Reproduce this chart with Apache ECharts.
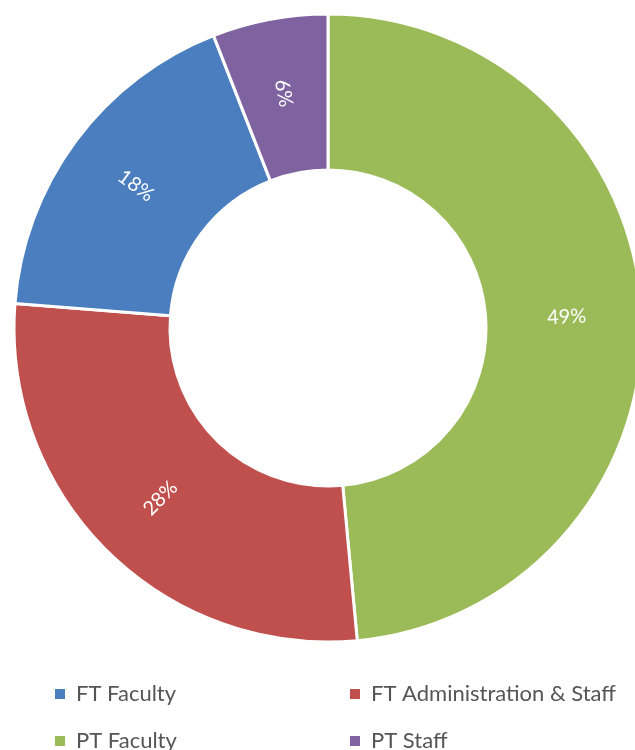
<!DOCTYPE html>
<html>
<head>
<meta charset="utf-8">
<script src="https://cdn.jsdelivr.net/npm/echarts@6/dist/echarts.min.js"></script>
<style>
  html, body { margin: 0; padding: 0; background: #fff; }
  #chart { width: 635px; height: 750px; }
</style>
</head>
<body>
<div id="chart"></div>
<script>
// slices, clockwise from 12 o'clock
var categories = ['PT Faculty', 'FT Administration & Staff', 'FT Faculty', 'PT Staff']
var values = [49, 28, 18, 6]
var colors = ['#9bbb59', '#c0504d', '#4a7ebf', '#7f63a1']
// legend order as shown under the chart
var legendOrder = ['FT Faculty', 'FT Administration & Staff', 'PT Faculty', 'PT Staff']

var chart = echarts.init(document.getElementById('chart'))

// one legend block per entry so the 2x2 grid sits where it should
var legendPos = [
  {left: 48, top: 678},
  {left: 343, top: 678},
  {left: 48, top: 725},
  {left: 343, top: 725}
]
var legends = legendOrder.map(function (name, i) {
  return {
    data: [name],
    left: legendPos[i].left,
    top: legendPos[i].top,
    icon: 'rect',
    itemWidth: 12,
    itemHeight: 12,
    itemGap: 0,
    selectedMode: false,
    textStyle: {
      color: '#555555',
      fontSize: 22,
      fontFamily: 'Lato',
      padding: [0, 0, 0, 5]
    }
  }
})

var option = {
  animation: false,
  color: colors,
  legend: legends,
  series: [{
    type: 'pie',
    center: [328, 328],
    radius: [158, 314],
    startAngle: 90,
    clockwise: true,
    itemStyle: {
      borderColor: '#fff',
      borderWidth: 3
    },
    label: {
      show: true,
      position: 'inside',
      rotate: 'radial',
      color: '#fff',
      fontSize: 20,
      fontFamily: 'Lato',
      formatter: '{c}%'
    },
    labelLine: { show: false },
    emphasis: { disabled: true },
    data: categories.map(function (name, i) {
      return {name: name, value: values[i]}
    })
  }]
}

chart.setOption(option)
</script>
</body>
</html>
